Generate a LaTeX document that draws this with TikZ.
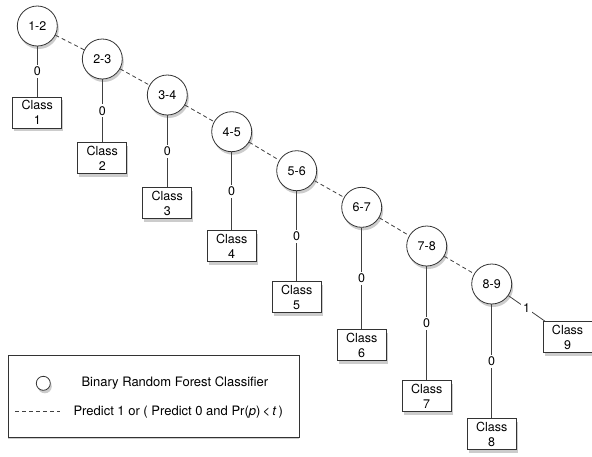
\documentclass[tikz,border=0pt]{standalone}
\usepackage{fontspec}
\setmainfont{TeX Gyre Heros}
\usetikzlibrary{shadows,positioning}

\tikzset{
    classifier/.style={circle, draw=black!80, fill=white, line width=0.8pt,
        minimum size=40pt, inner sep=0pt,
        drop shadow={shadow xshift=1.5pt, shadow yshift=-3pt, opacity=0.4}},
    classbox/.style={rectangle, draw=black!80, fill=white, line width=0.8pt,
        minimum width=49pt, minimum height=31pt, inner sep=0pt, align=center,
        font=\fontsize{12.5}{15}\selectfont,
        drop shadow={shadow xshift=1.5pt, shadow yshift=-3pt, opacity=0.4}},
    branch/.style={draw=black!75, line width=0.8pt},
    predict/.style={draw=black!75, line width=0.8pt, dash pattern=on 4pt off 3pt},
    lbl/.style={fill=white, inner sep=2pt, font=\fontsize{12.5}{15}\selectfont}
}

\begin{document}
\begin{tikzpicture}[x=1pt, y=-1pt, font=\fontsize{12.5}{15}\selectfont]
        \useasboundingbox (0,0) rectangle (592,456);

        \node[classifier] (c12) at (37.3,26) {1-2};
        \node[classifier] (c23) at (102.3,59) {2-3};
        \node[classifier] (c34) at (167.3,95) {3-4};
        \node[classifier] (c45) at (231.7,131.7) {4-5};
        \node[classifier] (c56) at (296.7,170.7) {5-6};
        \node[classifier] (c67) at (361.7,207.3) {6-7};
        \node[classifier] (c78) at (426.7,246) {7-8};
        \node[classifier] (c89) at (491.7,284) {8-9};

        \node[classbox] (k1) at (37.3,112.8) {Class\\1};
        \node[classbox] (k2) at (102.3,158) {Class\\2};
        \node[classbox] (k3) at (167.3,203) {Class\\3};
        \node[classbox] (k4) at (231.7,246) {Class\\4};
        \node[classbox] (k5) at (296.7,297) {Class\\5};
        \node[classbox] (k6) at (361.7,345) {Class\\6};
        \node[classbox] (k7) at (426.7,396) {Class\\7};
        \node[classbox] (k8) at (491.7,434) {Class\\8};
        \node[classbox] (k9) at (567.6,337) {Class\\9};

        \draw[predict] (c12) -- (c23) -- (c34) -- (c45) -- (c56) -- (c67) -- (c78) -- (c89);

        \draw[branch] (c12) -- node[lbl] {0} (k1);
        \draw[branch] (c23) -- node[lbl] {0} (k2);
        \draw[branch] (c34) -- node[lbl] {0} (k3);
        \draw[branch] (c45) -- node[lbl] {0} (k4);
        \draw[branch] (c56) -- node[lbl] {0} (k5);
        \draw[branch] (c67) -- node[lbl] {0} (k6);
        \draw[branch] (c78) -- node[lbl] {0} (k7);
        \draw[branch] (c89) -- node[lbl] {0} (k8);
        \draw[branch] (c89) -- node[lbl] {1} (k9);

        \node[draw=black!80, fill=white, line width=0.8pt, minimum width=291pt,
            minimum height=82pt, inner sep=0pt,
            drop shadow={shadow xshift=0pt, shadow yshift=-1.5pt, opacity=0.4}]
            (legend) at (153.8,396.2) {};
        \node[classifier, minimum size=14pt] (key) at (43.3,383.3) {};
        \node[anchor=west, font=\fontsize{13}{15}\selectfont] (keytext) at (78,383.3)
            {Binary Random Forest Classifier};
        \coordinate (d1) at (15,411.7);
        \coordinate (d2) at (60,411.7);
        \draw[predict] (d1) -- (d2);
        \node[anchor=west, font=\fontsize{13}{15}\selectfont] (predtext) at (70,411.7)
            {Predict 1 or ( Predict 0 and Pr(\textit{p})\,<\,\textit{t}\,)};
    \end{tikzpicture}
\end{document}
